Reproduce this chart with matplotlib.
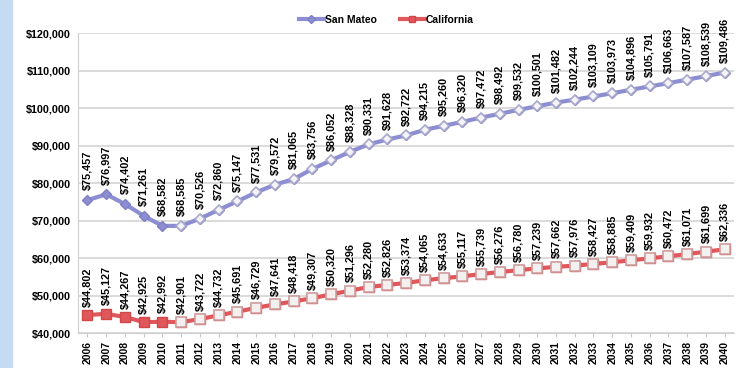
import numpy as np
import matplotlib as mpl
mpl.use('Agg')
import matplotlib.pyplot as plt
from matplotlib.patches import Rectangle

years = list(range(2006, 2041))
san_mateo = [75457, 76997, 74402, 71261, 68582, 68585, 70526, 72860, 75147, 77531,
             79572, 81065, 83756, 86052, 88328, 90331, 91628, 92722, 94215, 95260,
             96320, 97472, 98492, 99532, 100501, 101482, 102244, 103109, 103973, 104896,
             105791, 106663, 107587, 108539, 109486]
california = [44802, 45127, 44267, 42925, 42992, 42901, 43722, 44732, 45691, 46729,
              47641, 48418, 49307, 50320, 51296, 52280, 52826, 53374, 54065, 54633,
              55117, 55739, 56276, 56780, 57239, 57662, 57976, 58427, 58885, 59409,
              59932, 60472, 61071, 61699, 62336]
n_actual = 5  # 2006-2010 drawn with filled markers, rest are projections

plt.rcParams['font.family'] = ['Liberation Sans', 'DejaVu Sans']
plt.rcParams['font.weight'] = 'bold'

fig = plt.figure(figsize=(7.37, 3.68), dpi=100)
fig.patches.append(Rectangle((0, 0), 12 / 737, 1, transform=fig.transFigure,
                             color='#c4dbf1', zorder=0))
ax = fig.add_axes([0.106, 0.095, 0.89, 0.815])

sm_col = '#8d8ed2'
ca_col = '#e0585b'

x = np.array(years)
sm = np.array(san_mateo)
ca = np.array(california)

ax.plot(x, sm, color=sm_col, lw=3, zorder=3, label='San Mateo',
        marker='D', ms=5.5, mfc=sm_col, mec='#7d7fc4')
ax.plot(x[n_actual:], sm[n_actual:], ls='none', marker='D', ms=5.5,
        mfc='#f4f4f8', mec='#a8a8cc', mew=1.2, zorder=4)
ax.plot(x, ca, color=ca_col, lw=3, zorder=3, label='California',
        marker='s', ms=7, mfc=ca_col, mec='#d04848')
ax.plot(x[n_actual:], ca[n_actual:], ls='none', marker='s', ms=7,
        mfc='#f4f0f0', mec='#cfa0a0', mew=1.2, zorder=4)

for xi, v in zip(x, sm):
    ax.annotate('${:,}'.format(v), (xi, v), xytext=(0, 7), textcoords='offset points',
                rotation=90, ha='center', va='bottom', fontsize=7.8, fontweight='bold')
for xi, v in zip(x, ca):
    ax.annotate('${:,}'.format(v), (xi, v), xytext=(0, 6), textcoords='offset points',
                rotation=90, ha='center', va='bottom', fontsize=7.8, fontweight='bold')

ax.set_xlim(2005.5, 2040.5)
ax.set_ylim(40000, 120000)
ax.set_yticks(range(40000, 120001, 10000))
ax.set_yticklabels(['${:,}'.format(v) for v in range(40000, 120001, 10000)],
                   fontsize=7.8, fontweight='bold')
ax.set_xticks(years)
ax.set_xticklabels([str(y) for y in years], rotation=90, fontsize=7.5, fontweight='bold')
ax.tick_params(axis='y', length=0, pad=5)
ax.tick_params(axis='x', length=3, color='#c8c8c8', pad=3)
ax.grid(axis='y', color='#d4d4d4', lw=1.2)
ax.set_axisbelow(True)
for s in ['top', 'right']:
    ax.spines[s].set_visible(False)
ax.spines['left'].set_color('#cfcfcf')
ax.spines['bottom'].set_color('#cfcfcf')

ax.legend(loc='lower center', bbox_to_anchor=(0.47, 1.0), ncol=2, frameon=False,
          fontsize=7.5, handlelength=2.4, columnspacing=2.2, borderaxespad=0.4,
          handletextpad=0.1, markerscale=0.7)

fig.savefig('out.png', dpi=100)
